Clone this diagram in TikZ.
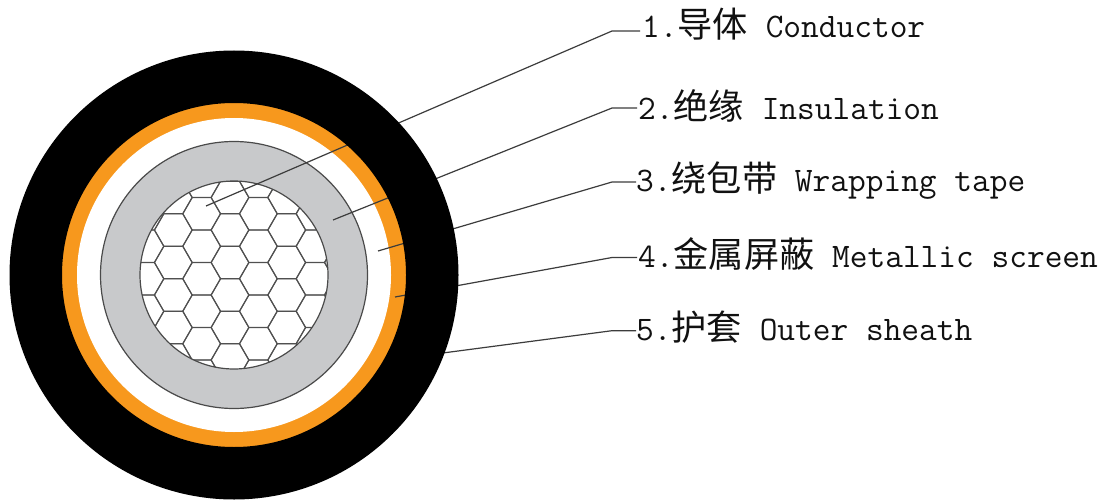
\documentclass[tikz,border=0pt]{standalone}
\usepackage{fontspec}
\newfontfamily\cjk{Noto Sans CJK SC}
\tikzset{
  layer/.style={draw=ringline,line width=1.2pt},
  hexline/.style={draw=hexgray,line width=1.1pt},
  leader/.style={draw=leadercol,line width=1.2pt},
  lab/.style={anchor=base west,inner sep=0pt,font=\fontsize{34.4}{40}\selectfont\ttfamily,text=labelcol},
}
\definecolor{ringline}{HTML}{4A4A4A}
\definecolor{hexgray}{HTML}{505050}
\definecolor{leadercol}{HTML}{3C3C3C}
\definecolor{labelcol}{HTML}{111111}
\definecolor{orangering}{HTML}{F7981D}
\definecolor{grayring}{HTML}{C8C9CB}
\newcommand{\zh}[1]{{\cjk\fontsize{35.2}{40}\selectfont #1}}
\begin{document}
\begin{tikzpicture}[x=1pt,y=-1pt]
\useasboundingbox (0,0) rectangle (1107,500);
\fill[white] (0,0) rectangle (1107,500);
\coordinate (c) at (234,275);
% layers
\fill[orangering] (c) circle[radius=173];
\fill[white] (c) circle[radius=157];
\path[fill=grayring,layer] (c) circle[radius=133.5];
\path[fill=white] (c) circle[radius=94];
% conductor strands
\begin{scope}
\clip (c) circle[radius=94];
\foreach \i in {-4,...,4}{
  \foreach \j in {-4,...,4}{
    \pgfmathsetmacro{\hx}{230+28.35*\i}
    \pgfmathsetmacro{\hy}{262.5+32.5*\j+(mod(abs(\i),2)==1?-16.25:0)}
    \path[hexline,shift={(\hx,\hy)}] (0:18.9) -- (60:18.9) -- (120:18.9) -- (180:18.9) -- (240:18.9) -- (300:18.9) -- cycle;
  }
}
\end{scope}
\path[layer] (c) circle[radius=94];
% labels
\node[lab] (lab1) at (642,38) {1.\zh{导体} Conductor};
\node[lab] (lab2) at (638,120) {2.\zh{绝缘} Insulation};
\node[lab] (lab3) at (636,191) {3.\zh{绕包带} Wrapping tape};
\node[lab] (lab4) at (638,267.5) {4.\zh{金属屏蔽} Metallic screen};
\node[lab] (lab5) at (636,340.5) {5.\zh{护套} Outer sheath};
% leader anchors
\coordinate (t1) at (206,206);
\coordinate (e1) at (612,31);
\coordinate (s1) at (640,31);
\coordinate (t2) at (333,220);
\coordinate (e2) at (612,108);
\coordinate (s2) at (637,108);
\coordinate (t3) at (378,251);
\coordinate (e3) at (612,182);
\coordinate (s3) at (636,182);
\coordinate (t4) at (395,297);
\coordinate (e4) at (612,257.5);
\coordinate (s4) at (637,257.5);
\coordinate (t5) at (420,356);
\coordinate (e5) at (612,330.7);
\coordinate (s5) at (636,330.7);
\foreach \k in {1,...,5}{
  \path[leader] (t\k) -- (e\k) -- (s\k);
}
% outer sheath above leaders
\fill[black,even odd rule] (c) circle[radius=224.5] (c) circle[radius=172];
\end{tikzpicture}
\end{document}
